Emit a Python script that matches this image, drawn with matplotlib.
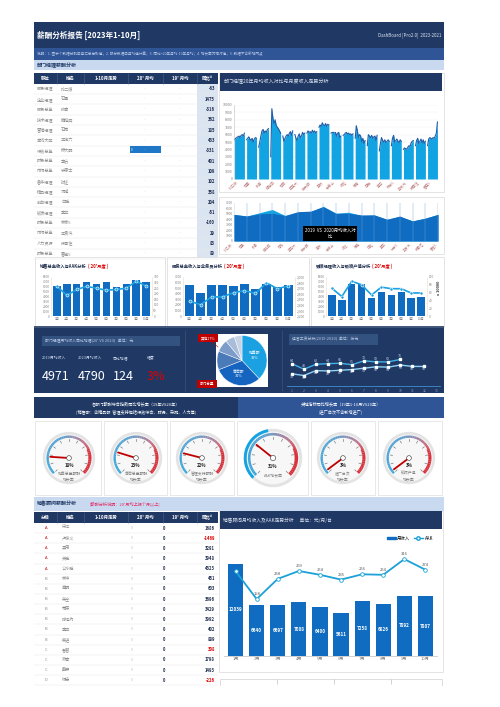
import numpy as np
import matplotlib
matplotlib.use('Agg')
import matplotlib.pyplot as plt
from matplotlib.patches import Rectangle, Wedge, Circle, Patch
from matplotlib.lines import Line2D
from matplotlib.colors import LinearSegmentedColormap

plt.rcParams['font.family'] = ['Noto Sans CJK SC', 'DejaVu Sans']

NAVY = '#1f3864'
MID = '#2f5597'
LIGHT = '#c9d9f0'
BLUE = '#0f6cc0'
CYAN = '#12a3e3'
GREY = '#808080'

# ---------------- data ----------------
roles1 = ['服务经理', '企业经理', '服务总监', '技术经理', '营销经理', '本线大区', '行政总监', '财务总监', '市场总监',
          '备件经理', '精品经理', '前台经理', '钣喷经理', '财务总监', '市场总监', '人力资源', '财务总监']
names1 = ['孙二娘', '石勇', '张青', '鲍旭四', '石秀', '王定六', '穆大明', '李云', '宁康士',
          '时迁', '汤隆', '白胜', '李立', '林家5', '王贵汽', '段景住', '曹宝5']
yoy1 = [-63, 1475, -316, 362, 185, 433, -331, 401, 109, 102, 358, 204, -51, -160, 29, 83, 89]

trend = [
    [5300, 5500, 5600, 5700, 5800, 5600, 5900, 6000, 5800, 6200],
    [5300, 5500, 5700, 5400, 5200, 5500, 5000, 5400, 5600, 5500],
    [4300, 5000, 5800, 6500, 6700, 6200, 6500, 6300, 6700, 6800],
    [3000, 9500, 8200, 7500, 8000, 7200, 7000, 6800, 6500, 6200],
    [5800, 5100, 5500, 5800, 6000, 5800, 6200, 6400, 5900, 6500],
    [6000, 5500, 5200, 5800, 6100, 5600, 5800, 6300, 6000, 6200],
    [6200, 6500, 6300, 6400, 6200, 6600, 6300, 6500, 6200, 6400],
    [7000, 7300, 7100, 7600, 7300, 7200, 7500, 7100, 7400, 7300],
    [6200, 6300, 6300, 6200, 6300, 5800, 6200, 6300, 5600, 5800],
    [5900, 6000, 6200, 6300, 6100, 6200, 6000, 6100, 5900, 6100],
    [5500, 7200, 6500, 5600, 6000, 5800, 5000, 5500, 4800, 5200],
    [4500, 6000, 5800, 5600, 5900, 5500, 5700, 5800, 5200, 5900],
    [3800, 4800, 5600, 5200, 5000, 5300, 4900, 5100, 5300, 5100],
    [4500, 5500, 5900, 5000, 5200, 5400, 5100, 4900, 5300, 5100],
    [4000, 4200, 4100, 4000, 4300, 4500, 4400, 4900, 5100, 5200],
    [4500, 5200, 5500, 4800, 5100, 5400, 4900, 5300, 4800, 5100],
    [4500, 5400, 5600, 5500, 5400, 5600, 5500, 5800, 6200, 7700],
]
avg19 = [4900, 4600, 5200, 5800, 4700, 5000, 5400, 6400, 5100, 5300, 4700, 4800, 4000, 4500, 3700, 4200, 4900]
avg20 = [4900, 4600, 5000, 5100, 4700, 5400, 5500, 6300, 5100, 5100, 4800, 4800, 4000, 4600, 3700, 4200, 4900]

months = ['1月', '2月', '3月', '4月', '5月', '6月', '7月', '8月', '9月', '10月']
sales_inc = [6200, 6500, 6500, 6900, 6600, 7000, 6000, 6600, 7400, 7000]
sales_aak = [266, 186, 238, 266, 249, 231, 238, 249, 312, 270]
serv_inc = [5570, 4070, 5500, 5500, 5330, 5750, 4900, 5750, 5150, 5570]
serv_cnt = [2466, 2403, 2543, 2543, 2620, 2655, 2606, 2795, 2690, 2739]
spray_inc = [4380, 3260, 6530, 6530, 3750, 4860, 4380, 4860, 3750, 3820]
spray_val = [71, 50, 89, 80, 54, 74, 70, 70, 59, 59]

kpi_labels = ['2019月均收入', '2023月均收入', '同比增幅', '幅度']
kpi_values = ['4971', '4790', '124', '3%']
pie_labels = ['销售部', '售后部', '管理支持', '其他', '行政', '财务']
pie_vals = [38, 31, 12, 8, 6, 5]
wage_up = [64, 48, 62, 64, 65, 61, 72, 69, 69, 76]
wage_low = [35, 30, 44, 43, 45, 47, 51, 55, 54, 60, 56, 56]

gauge_vals = [18, 23, 22, 31, 3, 3]
gauge_names = [['销售总监薪酬', '增长率'], ['售后总监薪酬', '增长率'], ['管理支持薪酬', '增长率'],
               ['AAK增长率', ''], ['进厂台次', '增长率'], ['钣喷产值', '增长率']]

grades2 = ['A', 'A', 'A', 'A', 'A', 'B', 'B', 'B', 'B', 'B', 'B', 'B', 'C', 'C', 'C', 'D']
names2 = ['宋江', '卢俊义', '吴用', '关胜', '公孙胜', '林冲', '秦明', '朱仝', '花荣', '呼延灼',
          '李应', '柴进', '鲁智', '燕青', '戴宗', '杨志']
yoy2 = [1686, -1469, 3291, 3948, 4323, 451, 603, 3696, 3429, 3992, 402, 889, 308, 1798, 1493, -226]

adv_income = [12039, 6640, 6697, 7008, 6400, 5611, 7258, 6826, 7892, 7807]
adv_aak = [268, 158, 238, 269, 254, 235, 256, 254, 316, 274]

# ---------------- layout helpers ----------------
W, H = 500, 707
fig = plt.figure(figsize=(5, 7.07), dpi=100)


def rect(x0, y0, x1, y1):
    return [x0 / W, 1 - y1 / H, (x1 - x0) / W, (y1 - y0) / H]


bg = fig.add_axes([0, 0, 1, 1])
bg.set_xlim(0, W)
bg.set_ylim(H, 0)
bg.axis('off')


def box(x0, y0, x1, y1, fc, ec='none', lw=0.5, z=1):
    bg.add_patch(Rectangle((x0, y0), x1 - x0, y1 - y0, facecolor=fc, edgecolor=ec, lw=lw, zorder=z))


def txt(x, y, s, size=4, color='#333333', ha='left', weight='normal', z=3, **kw):
    bg.text(x, y, s, fontsize=size, color=color, ha=ha, va='center', fontweight=weight, zorder=z, **kw)


def style(ax, size=2.6):
    ax.tick_params(length=0, labelsize=size, labelcolor=GREY, pad=1)
    for s in ax.spines.values():
        s.set_visible(False)


# ---------------- header ----------------
box(34, 22, 444, 48, NAVY)
txt(37, 35, '薪酬分析报告 [2023年1-10月]', 5.5, 'white', weight='bold')
txt(441, 35, 'DashBoard [Pro2.0]  2023-2021', 3.2, '#dfe6f2', ha='right')
box(34, 48, 444, 60, MID)
txt(37, 54, '说明：1. 图示个数据分别由月汇总后取值；2. 部分数据由月均值计算；3. 同比=20年月均-19年月均；'
            '4. 增长率为相对值；5. 数据不含新增网点', 2.6, '#b8c8e6')
box(34, 60, 444, 70, LIGHT)
txt(37, 65.5, '部门经理薪酬分析', 3.6, NAVY, weight='bold')

# ---------------- tables ----------------
cols = [34, 57, 84, 128, 163, 197, 218]
heads1 = ['职位', '姓名', '1-10月走势', "20' 月均", "19' 月均", '同比^']


def table_head(y0, y1, heads):
    box(34, y0, 218, y1, NAVY)
    for i, h in enumerate(heads):
        txt((cols[i] + cols[i + 1]) / 2, (y0 + y1) / 2, h, 3.2, 'white', ha='center', weight='bold')
    for c in cols[1:-1]:
        bg.vlines(c, y0, y1, color='#4a6391', lw=0.4, zorder=3)


table_head(73, 84, heads1)
box(197, 84, 218, 259, '#dbe5f1')
for i in range(len(roles1)):
    y = 89 + i * 10.3
    txt(37, y, roles1[i], 3.0, '#8c8c8c')
    txt(61, y, names1[i], 3.0, '#8c8c8c')
    txt(145, y, '-', 3.0, '#c0c0c0', ha='center')
    txt(180, y, '-', 3.0, '#c0c0c0', ha='center')
    txt(215, y, str(yoy1[i]), 3.0, '#1f2d4d', ha='right', weight='bold')
    bg.hlines(y + 5.15, 34, 218, color='#e6e6e6', lw=0.3, zorder=2)
box(130, 146, 161, 153, '#1f77c8', z=2)
txt(131, 150, '0', 2.2, 'white')

# ---------------- middle area chart ----------------
box(219, 73, 444, 192, 'white', '#d9d9d9', 0.5)
box(220, 73, 442, 91, NAVY, z=2)
txt(224, 82, '部门经理20年月均收入对比与月度收入走势分析', 3.6, '#dfe6f2')
ax = fig.add_axes(rect(234, 105, 438, 179))
for g, vals in enumerate(trend):
    xs = np.arange(10) + g * 11
    ax.fill_between(xs, vals, color=CYAN, lw=0)
    ax.plot(xs, vals, color='#1f5ea8', lw=0.8)
ax.set_xlim(-0.5, 17 * 11 - 1.5)
ax.set_ylim(0, 10000)
ax.set_yticks(range(0, 10001, 1000))
ax.set_xticks(np.arange(17) * 11 + 4.5)
ax.set_xticklabels(names1, rotation=45, ha='right')
ax.grid(axis='y', color='#eeeeee', lw=0.3)
ax.set_axisbelow(True)
style(ax)
ax.spines['left'].set_visible(True)
ax.spines['left'].set_color('#bfbfbf')
ax.spines['left'].set_linewidth(0.4)
for lab in ax.get_xticklabels():
    lab.set_color('#c08080')

box(219, 197, 444, 254, 'white', '#d9d9d9', 0.5)
ax = fig.add_axes(rect(234, 203, 438, 241))
xg = np.arange(len(avg19))
ax.fill_between(xg, avg19, color=CYAN, lw=0)
ax.fill_between(xg, avg20, color=BLUE, lw=0)
ax.set_xlim(0, len(avg19) - 1)
ax.set_ylim(0, 7000)
ax.set_yticks(range(0, 7001, 1000))
ax.set_xticks(xg)
ax.set_xticklabels(names1, rotation=45, ha='right')
ax.grid(axis='x', color='#6fa6dd', lw=0.3)
ax.set_axisbelow(False)
style(ax, 2.4)
for lab in ax.get_xticklabels():
    lab.set_color('#c08080')
ax.text(0.47, 0.2, '2019  VS  2020月均收入对\n比', transform=ax.transAxes, ha='center', va='center',
        fontsize=3.2, color='white', linespacing=1.3,
        bbox=dict(boxstyle='square,pad=0.4', fc='black', ec='none'))

# ---------------- three bar/line charts ----------------
panels = [
    (35, 165, 51, 152, '销售总监收入与AAK分析', 88, sales_inc, sales_aak, 8000, (0, 350), range(0, 351, 50), ''),
    (167, 309, 183, 295, '服务总监收入与业务员分析', 224, serv_inc, serv_cnt, 7000, (2200, 2900), range(2200, 2901, 100), ','),
    (311, 444, 326, 427, '钣喷经理收入与钣喷产值分析', 372, spray_inc, spray_val, 8000, (0, 100), range(0, 101, 20), ''),
]
for (px0, px1, ax0, ax1, title, rx, inc, sec, ymax, rlim, rticks, fmt) in panels:
    box(px0, 257, px1, 327, 'white', '#d9d9d9', 0.5)
    txt(px0 + 5, 266, title, 3.1, '#1f2d4d', weight='bold')
    txt(rx, 266, "( 20'月度 )", 3.1, '#e00000', weight='bold')
    ax = fig.add_axes(rect(ax0, 277, ax1, 316))
    xm = np.arange(len(months))
    ax.bar(xm, inc, width=0.75, color=BLUE)
    ax.set_ylim(0, ymax)
    ax.set_yticks(range(0, ymax + 1, 1000))
    ax.set_xticks(xm)
    ax.set_xticklabels(months)
    ax.set_xlim(-0.6, len(months) - 0.4)
    style(ax, 2.3)
    for s in ('left', 'right'):
        ax.spines[s].set_visible(True)
        ax.spines[s].set_color('#f0d9c4')
        ax.spines[s].set_linewidth(0.4)
    a2 = ax.twinx()
    a2.plot(xm, sec, color='#1ba1e2', lw=1.2, marker='o', ms=2.2, mfc='#1ba1e2', mec='white', mew=0.4)
    a2.set_ylim(*rlim)
    a2.set_yticks(list(rticks))
    if fmt:
        a2.set_yticklabels([f'{v:,}' for v in rticks])
    style(a2, 2.3)
txt(439, 288, 'x 10000', 2.8, '#333333', ha='center', weight='bold', rotation=90)
bg.hlines(327, 34, 444, color=NAVY, lw=1.2, zorder=2)

# ---------------- KPI band ----------------
box(34, 328, 444, 393, NAVY)
bg.vlines([185, 282], 330, 391, color='#34507a', lw=0.6, zorder=2)
box(42, 336, 180, 346, '#34527f', z=2)
txt(45, 341, "部门经理月均收入同比增幅(20' VS 2023)   单位：元", 2.8, '#b8c8e6')
for i, (lab, val) in enumerate(zip(kpi_labels, kpi_values)):
    x = [42, 78, 113, 147][i]
    txt(x, 358, lab, 2.8, '#c8d4ea')
    txt(x, 376, val, 9, '#e00000' if i == 3 else 'white')

box(216, 334, 268, 387, 'white', z=2)
ax = fig.add_axes(rect(216, 334, 268, 387))
pie_cols = ['#1ba1e2', '#1565c0', '#4a7ab8', '#7d9cc9', '#a9bddb', '#c8d4e6']
wedges, _ = ax.pie(pie_vals, colors=pie_cols, startangle=90, counterclock=False, radius=1.0,
                   wedgeprops=dict(edgecolor='white', lw=0.3))
for i in range(2):
    ang = np.deg2rad((wedges[i].theta1 + wedges[i].theta2) / 2)
    ax.text(0.55 * np.cos(ang), 0.55 * np.sin(ang), f'{pie_labels[i]}\n{pie_vals[i]}%', ha='center',
            va='center', fontsize=2.8, color='white')
ax.set_xlim(-1.04, 1.04)
ax.set_ylim(-1.04, 1.04)
box(198, 334, 218, 342, '#c00000', z=3)
txt(208, 338, '其他17%', 2.6, 'white', ha='center', z=4)
box(197, 380, 217, 388, '#c00000', z=3)
txt(207, 384, '部门总量', 2.6, 'white', ha='center', z=4)
bg.plot([212, 218], [342, 347], color='#c00000', lw=0.4, zorder=3)

box(289, 334, 378, 345, '#34527f', z=2)
txt(292, 339.5, '运营工资分析(2019-2020)  单位：万元', 2.8, '#b8c8e6')
ax = fig.add_axes(rect(287, 350, 440, 386))
ax.set_facecolor('none')
xu = np.arange(1, len(wage_up) + 1)
xl = np.arange(1, len(wage_low) + 1)
ax.plot(xu, wage_up, color='#3fb2ea', lw=1.0, marker='s', ms=1.8, mfc='white', mec='white')
ax.plot(xl, wage_low, color='#8fd3f4', lw=1.0, marker='s', ms=1.8, mfc='white', mec='white')
for x, v in zip(xu, wage_up):
    ax.text(x, v + 6, str(v), ha='center', fontsize=2.6, color='#c8d4ea')
for x, v in zip(xl, wage_low):
    ax.text(x, v - 11, str(v), ha='center', fontsize=2.6, color='#c8d4ea')
ax.set_xlim(0.6, 13.3)
ax.set_ylim(0, 103)
ax.set_xticks(range(1, 14))
ax.set_yticks([])
style(ax, 2.4)
ax.tick_params(labelcolor='#7f9ccc', pad=2)
ax.spines['bottom'].set_visible(True)
ax.spines['bottom'].set_color('#3f8fcf')
ax.spines['bottom'].set_linewidth(0.6)

# ---------------- gauges ----------------
box(34, 397, 238, 418, NAVY)
box(238, 397, 444, 418, MID)
txt(136, 404, '各部门薪酬综合指数同比增长率（19年VS20年）', 3.0, 'white', ha='center')
txt(136, 412, '[销售部：含精品部  管理支持包括行政综合、财务、采购、人力等]', 3.0, 'white', ha='center')
txt(341, 404, '关键指标同比增长率（19年1-10月VS20年）', 3.0, 'white', ha='center')
txt(341, 412, '[进厂台次不含新增进厂]', 3.0, 'white', ha='center')

gpanels = [(35, 101), (104, 167), (170, 234), (237, 308), (311, 375), (378, 442)]
gcenters = [69, 136, 202, 273, 343, 409]
cmap = LinearSegmentedColormap.from_list('g', [(0, '#3aa7dc'), (0.42, '#58a2d2'), (0.55, '#8f8fb2'),
                                               (0.68, '#c46b80'), (0.78, '#d9323c'), (1, '#d9323c')])
for k, v in enumerate(gauge_vals):
    box(gpanels[k][0], 421, gpanels[k][1], 495, 'white', '#dedede', 0.5)
    big = k == 3
    size = 76 if big else 68
    cx, cy = gcenters[k], 458
    ax = fig.add_axes(rect(cx - size / 2, cy - size / 2, cx + size / 2, cy + size / 2))
    ax.set_xlim(-1.3, 1.3)
    ax.set_ylim(-1.3, 1.3)
    ax.axis('off')
    ax.add_patch(Circle((0, 0), 1.0, fc='#e3e3e3', ec='none'))
    ax.add_patch(Circle((0, 0), 0.9, fc='#f7f7f7', ec='none'))
    if big:
        ax.add_patch(Wedge((0, 0), 1.0, 100, 225, width=0.1, fc='#12a3e3', ec='none'))
    steps = 54
    for j in range(steps):
        a1 = 225 - 270 * j / steps
        a0 = 225 - 270 * (j + 1) / steps
        t = (j + 0.5) / steps
        wdt = 0.09 if t < 0.75 else 0.12
        ax.add_patch(Wedge((0, 0), 0.86, a0, a1 + 0.3, width=wdt, fc=cmap(t), ec='none'))
    for j in range(11):
        a = np.deg2rad(225 - 27 * j)
        ax.plot([0.64 * np.cos(a), 0.72 * np.cos(a)], [0.64 * np.sin(a), 0.72 * np.sin(a)],
                color='#7a7a7a', lw=0.5)
    a = np.deg2rad(225 - 2.7 * v)
    ax.plot([0, 0.72 * np.cos(a)], [0, 0.72 * np.sin(a)], color='#c00000', lw=1.3, solid_capstyle='round')
    ax.add_patch(Circle((0, 0), 0.09, fc='white', ec='#555555', lw=0.5, zorder=5))
    ax.text(0, -0.3, f'{v}%', ha='center', va='center', fontsize=3.2, fontweight='bold', color='#222222')
    ax.text(0, -0.6, gauge_names[k][0], ha='center', va='center', fontsize=2.8, color=GREY)
    ax.text(0, -0.82, gauge_names[k][1], ha='center', va='center', fontsize=2.8, color=GREY)

# ---------------- sales advisor section ----------------
box(34, 497, 444, 511, LIGHT)
txt(37, 504, '销售顾问薪酬分析', 3.6, NAVY, weight='bold')
txt(90, 504, "[薪酬分析说明：20'月均上报个月以上]", 3.0, '#e0306a')
heads2 = ['分级', '姓名', '1-10月走势', "20' 月均", "19' 月均", '同比^']
table_head(512, 523, heads2)
for i in range(len(grades2)):
    y = 528 + i * 10.15
    txt(46, y, grades2[i], 3.0, '#c00000' if grades2[i] == 'A' else '#8c8c8c', ha='center')
    txt(62, y, names2[i], 3.0, '#8c8c8c')
    txt(132, y, '0', 2.6, '#c0c0c0', ha='center')
    txt(164, y, '0', 3.0, '#1f2d4d', ha='center', weight='bold')
    neg = yoy2[i] < 0 or yoy2[i] == 308
    txt(215, y, str(yoy2[i]), 3.0, '#e00000' if neg else '#1f2d4d', ha='right', weight='bold')
    bg.hlines(y + 5.07, 34, 218, color='#e6e6e6', lw=0.3, zorder=2)

box(219, 511, 443, 672, 'white', '#d9d9d9', 0.5)
box(220, 511, 442, 529, NAVY, z=2)
txt(223, 520, '销售顾问月均收入及AAK走势分析      单位：元/月/台', 3.4, '#dfe6f2')
ax = fig.add_axes(rect(224, 549, 437, 656))
xm = np.arange(len(months))
bars = ax.bar(xm, adv_income, width=0.72, color=BLUE)
for x, v in zip(xm, adv_income):
    ax.text(x, v / 2, str(v), ha='center', va='center', fontsize=3.3, color='white', fontweight='bold')
ax.set_ylim(0, 14000)
ax.set_xlim(-0.55, len(months) - 0.45)
ax.set_xticks(xm)
ax.set_xticklabels(months)
ax.set_yticks([])
ax.grid(axis='y', color='#f0f0f0', lw=0.3)
style(ax, 3.0)
ax.spines['bottom'].set_visible(True)
ax.spines['bottom'].set_color('#bfbfbf')
ax.spines['bottom'].set_linewidth(0.5)
a2 = ax.twinx()
a2.plot(xm, adv_aak, color='#1ba1d8', lw=1.3, marker='o', ms=2.6, mfc='white', mec='#1ba1d8', mew=0.6)
for x, v in zip(xm[1:], adv_aak[1:]):
    a2.text(x, v + 12, str(v), ha='center', va='bottom', fontsize=3.0, color='#555555')
a2.set_ylim(-67, 356)
a2.set_yticks([])
style(a2)
handles = [Patch(color=BLUE, label='月收入'),
           Line2D([], [], color='#1ba1d8', marker='o', mfc='white', ms=2.5, lw=1, label='AAK')]
ax.legend(handles=handles, loc='center right', bbox_to_anchor=(437 / W, 1 - 538 / H),
          bbox_transform=fig.transFigure, ncol=2, fontsize=3.2, frameon=False, handlelength=2,
          handleheight=0.6, columnspacing=0.8, handletextpad=0.4)

box(220, 679, 442, 700, 'none', '#d0d0d0', 0.5)
bg.vlines([277, 334, 391], 679, 684, color='#c0c0c0', lw=0.5, zorder=2)
box(219, 686, 444, 707, 'white', z=3)

fig.savefig('out.png', dpi=100)
